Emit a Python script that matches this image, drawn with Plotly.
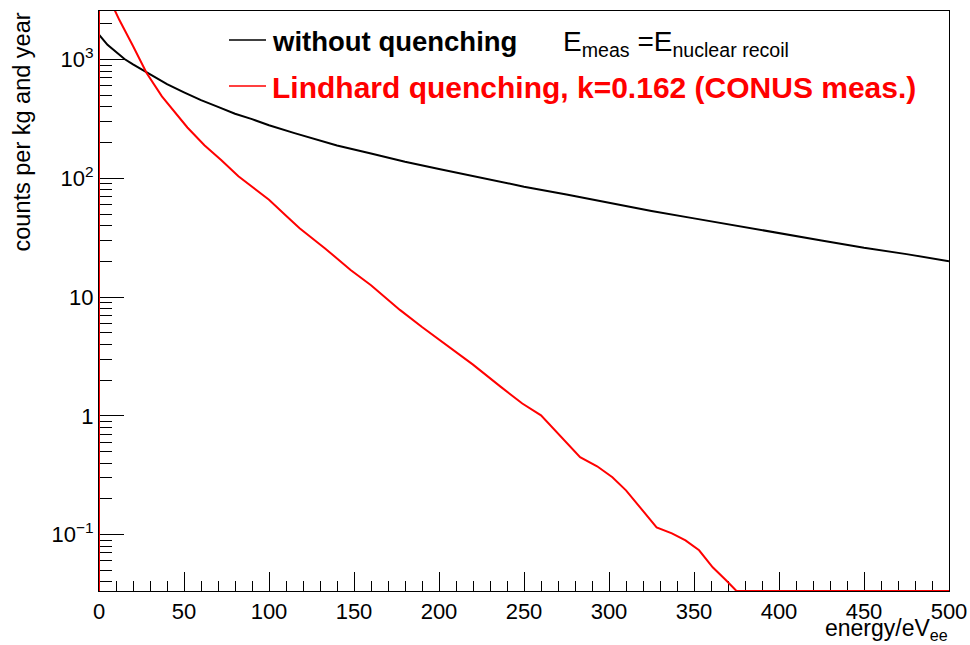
import math
import plotly.graph_objects as go

# ---------------- data ----------------
energy_black = [0, 5, 10, 15, 20, 30, 40, 50, 60, 70, 80, 90, 100, 115, 140, 160, 180,
                200, 225, 250, 275, 300, 325, 350, 375, 400, 425, 450, 475, 500]
counts_black = [1620, 1330, 1160, 1010, 910, 750, 620, 530, 455, 400, 350, 315, 280, 240,
                189, 162, 138, 120, 101, 85, 73, 62, 53, 46, 40, 35, 30, 26, 23, 20]

energy_red = [0, 5, 10, 12, 20, 28, 37, 45, 52, 62, 72, 82, 92, 100, 111, 118, 133, 148,
              160, 177, 190, 206, 220, 236, 249, 260, 267, 275, 283, 293, 302, 310, 318,
              328, 337, 345, 353, 361, 369, 375, 376, 500]
counts_red = [4900, 3500, 2500, 2150, 1300, 770, 490, 355, 268, 190, 142, 104, 80, 66,
              47, 38, 25.7, 16.9, 12.6, 7.8, 5.6, 3.8, 2.7, 1.77, 1.27, 1.01, 0.785,
              0.587, 0.448, 0.376, 0.304, 0.236, 0.17, 0.115, 0.1025, 0.0895, 0.0738,
              0.053, 0.041, 0.0335, 0.0335, 0.0335]

FLOOR = 0.0335          # lower edge of the y axis (empty bins are drawn here)
Y_TOP = 2564
y_tick_vals = [0.1, 1, 10, 100, 1000]
y_tick_text = ["10<sup>\u22121</sup>", "1", "10", "10<sup>2</sup>", "10<sup>3</sup>"]
x_tick_vals = [0, 50, 100, 150, 200, 250, 300, 350, 400, 450, 500]

label_black = "without quenching"
label_red = "Lindhard quenching, k=0.162 (CONUS meas.)"

FONT = "Liberation Sans, Arial, Helvetica, sans-serif"

fig = go.Figure()
fig.add_trace(go.Scatter(x=[energy_black[0]] + energy_black, y=[FLOOR] + counts_black,
                         mode="lines", line=dict(color="black", width=2),
                         showlegend=False, hoverinfo="skip"))
fig.add_trace(go.Scatter(x=[energy_red[0]] + energy_red, y=[FLOOR] + counts_red,
                         mode="lines", line=dict(color="#ff0000", width=2),
                         showlegend=False, hoverinfo="skip"))

minor_vals = [m * 10 ** e for e in range(-2, 4) for m in range(2, 10)]

fig.update_layout(
    width=970, height=645,
    margin=dict(l=99, r=21, t=11, b=54),
    plot_bgcolor="white", paper_bgcolor="white",
    font=dict(family=FONT, size=22, color="black"),
    showlegend=False,
    xaxis=dict(range=[0, 500], tickvals=x_tick_vals, ticks="inside", ticklen=19,
               tickwidth=1.2, tickcolor="black", showline=True, linecolor="black",
               linewidth=1.2, mirror=True, showgrid=False, zeroline=False,
               layer="below traces", automargin=False,
               minor=dict(dtick=10, ticks="inside", ticklen=10, tickwidth=1.2,
                          tickcolor="black", showgrid=False),
               tickfont=dict(size=22)),
    yaxis=dict(type="log", range=[math.log10(FLOOR), math.log10(Y_TOP)],
               tickvals=y_tick_vals, ticktext=y_tick_text, ticks="inside", ticklen=25,
               tickwidth=1.2, tickcolor="black", showline=True, linecolor="black",
               linewidth=1.2, mirror=True, showgrid=False, zeroline=False,
               layer="below traces", automargin=False,
               minor=dict(tickvals=minor_vals, ticks="inside", ticklen=13, tickwidth=1.2,
                          tickcolor="black", showgrid=False),
               tickfont=dict(size=22)),
)

# legend drawn manually
def px_x(p):
    return (p - 99) / 850.0

def px_y(p):
    return (591 - p) / 580.0

fig.add_shape(type="line", xref="paper", yref="paper", x0=px_x(229), x1=px_x(266),
              y0=px_y(40), y1=px_y(40), line=dict(color="black", width=1.5))
fig.add_shape(type="line", xref="paper", yref="paper", x0=px_x(229), x1=px_x(266),
              y0=px_y(86), y1=px_y(86), line=dict(color="#ff0000", width=1.5))
fig.add_annotation(xref="paper", yref="paper", x=px_x(270), y=px_y(41), xanchor="left",
                   yanchor="middle", showarrow=False, text="<b>" + label_black + "</b>",
                   font=dict(size=27.5, color="black"))
fig.add_annotation(xref="paper", yref="paper", x=px_x(270), y=px_y(87), xanchor="left",
                   yanchor="middle", showarrow=False, text="<b>" + label_red + "</b>",
                   font=dict(size=30, color="#ff0000"))
fig.add_annotation(xref="paper", yref="paper", x=px_x(561), y=px_y(44), xanchor="left",
                   yanchor="middle", showarrow=False,
                   text="E<sub>meas</sub> =E<sub>nuclear recoil</sub>",
                   font=dict(size=28, color="black"))

# axis titles
fig.add_annotation(xref="paper", yref="paper", x=px_x(21), y=1.0, xanchor="center",
                   yanchor="top", textangle=-90, showarrow=False,
                   text="counts per kg and year", font=dict(size=23.5))
fig.add_annotation(xref="paper", yref="paper", x=1.0, y=px_y(629), xanchor="right",
                   yanchor="middle", showarrow=False, borderpad=0,
                   text="energy/eV<sub>ee</sub>", font=dict(size=23))

fig.write_html("out.html")
